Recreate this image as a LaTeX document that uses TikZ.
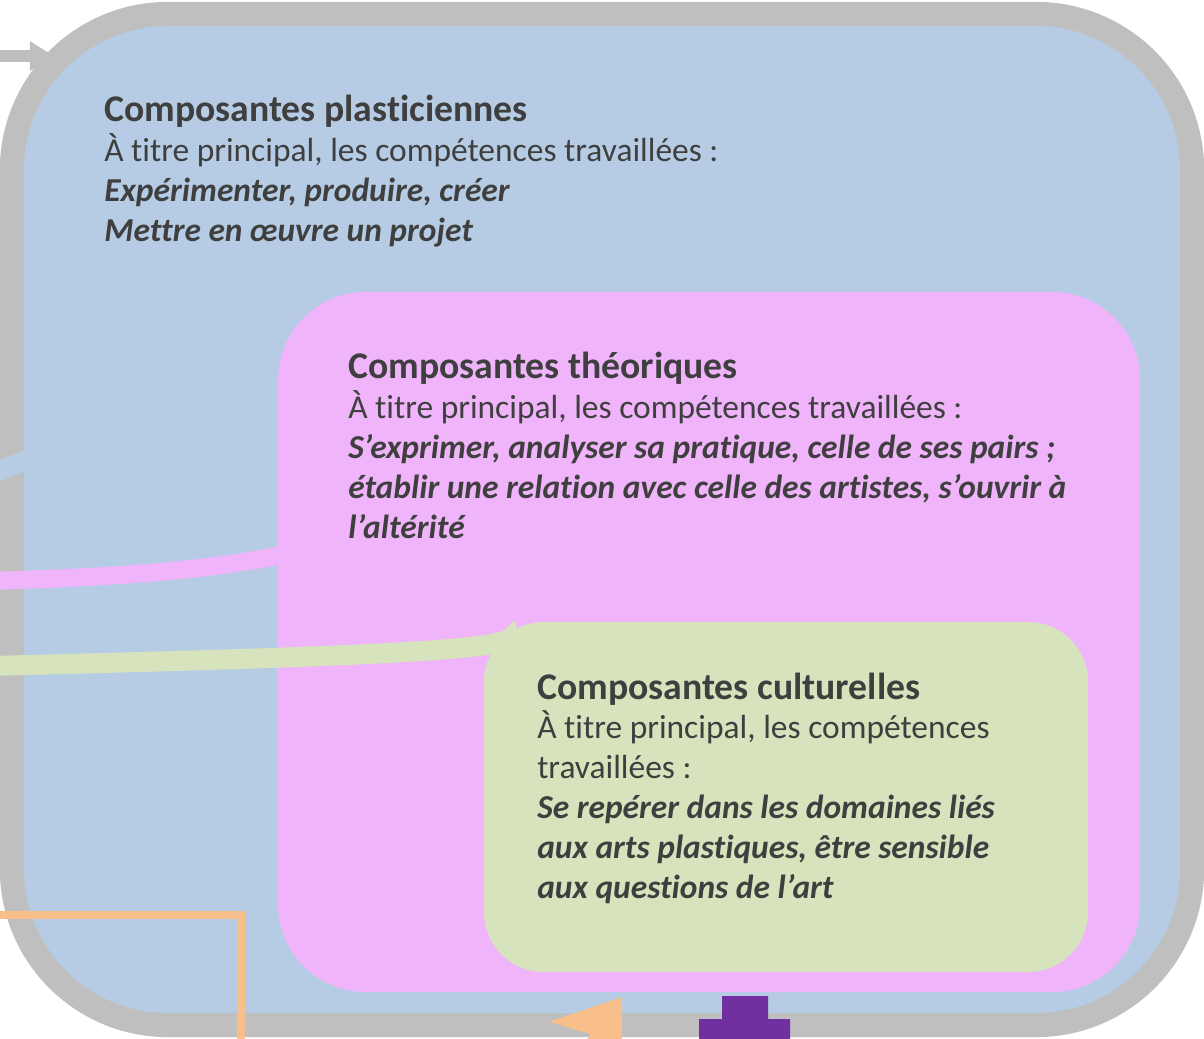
\documentclass[tikz,border=0pt]{standalone}
\usepackage{fontspec}
\setmainfont{Carlito}[Ligatures=NoCommon]
\usetikzlibrary{arrows.meta}
\definecolor{plastblue}{HTML}{B5CCE4}
\definecolor{framegray}{HTML}{BFBFBF}
\definecolor{theopink}{HTML}{F0B4FA}
\definecolor{cultgreen}{HTML}{D6E3BC}
\definecolor{linkorange}{HTML}{F9BF8B}
\definecolor{linkpurple}{HTML}{7030A0}
\definecolor{inktext}{HTML}{3F3F3F}
\newcommand{\blocktitle}[1]{{\fontsize{26.8}{28.3}\selectfont\bfseries #1}}

\begin{document}
\begin{tikzpicture}[x=0.025cm, y=-0.025cm]
    % Define styles
    \tikzset{
        plastbox/.style={draw=framegray, line width=0.6cm, fill=plastblue, rounded corners=3.9cm, minimum width=29.5cm, minimum height=25.275cm, inner sep=0},
        theobox/.style={fill=theopink, rounded corners=2.2cm, minimum width=21.55cm, minimum height=17.5cm, inner sep=0},
        cultbox/.style={fill=cultgreen, rounded corners=1.5cm, minimum width=15.1cm, minimum height=8.75cm, inner sep=0},
        blocktext/.style={anchor=base west, align=left, inner sep=0, text=inktext, font=\fontsize{23.8}{28.3}\selectfont},
        graylink/.style={draw=framegray, line width=0.3cm, -{Triangle[length=0.6cm, width=0.7cm]}},
        bluelink/.style={draw=plastblue, line width=0.5cm},
        pinklink/.style={draw=theopink, line width=0.45cm},
        greenlink/.style={draw=cultgreen, line width=0.5cm, -{Stealth[length=0.7cm, width=0.8cm, inset=0.2cm]}},
        orangelink/.style={draw=linkorange, line width=0.2cm},
        orangetip/.style={draw=linkorange, line width=0.2cm, -{Stealth[length=1.55cm, width=2.2cm, inset=0.375cm]}}
    }
    \useasboundingbox (0,0) rectangle (1204,1039);
    \clip (0,0) rectangle (1204,1039);

    % Nested boxes
    \node[plastbox] (plast) at (602,519.5) {};
    \node[theobox] (theo) at (709,642) {};
    \node[cultbox] (cult) at (786,797) {};

    % Texts of the three components (anchored on their last line)
    \node[blocktext] (plasttext) at (104,241) {\blocktitle{Composantes plasticiennes}\\
        À titre principal, les compétences travaillées :\\
        \textbf{\textit{Expérimenter, produire, créer}}\\
        \textbf{\textit{Mettre en œuvre un projet}}};
    \node[blocktext] (theotext) at (348,538) {\blocktitle{Composantes théoriques}\\
        À titre principal, les compétences travaillées :\\
        \textbf{\textit{S’exprimer, analyser sa pratique, celle de ses pairs ;}}\\
        \textbf{\textit{établir une relation avec celle des artistes, s’ouvrir à}}\\
        \textbf{\textit{l’altérité}}};
    \node[blocktext] (culttext) at (537,898) {\blocktitle{Composantes culturelles}\\
        À titre principal, les compétences\\
        travaillées :\\
        \textbf{\textit{Se repérer dans les domaines liés}}\\
        \textbf{\textit{aux arts plastiques, être sensible}}\\
        \textbf{\textit{aux questions de l’art}}};

    % Incoming links from the left
    \coordinate (grayfoot) at (-10,56);
    \coordinate (plastentry) at (54,56);
    \draw[graylink] (grayfoot) -- (plastentry);

    \coordinate (bluefoot) at (-10,474);
    \coordinate (bluein) at (60,448);
    \draw[bluelink] (bluefoot) -- (bluein);

    \coordinate (pinkfoot) at (-10,581);
    \coordinate (pinkin) at (300,551);
    \draw[pinklink] (pinkfoot) .. controls (150,576) and (230,567) .. (pinkin);

    \coordinate (greenfoot) at (-10,666);
    \coordinate (greenin) at (515,620);
    \draw[greenlink] (greenfoot) .. controls (300,658) and (505,652) .. (greenin);

    % Outgoing links at the bottom
    \coordinate (orangefoot) at (-10,915);
    \coordinate (orangeout) at (241,1060);
    \draw[orangelink] (orangefoot) -| (orangeout);

    \coordinate (orangestart) at (564,1078);
    \coordinate (orangeend) at (622,997);
    \draw[orangetip] (orangestart) -- (orangeend);

    \fill[linkpurple] (722,996) -- (768,996) -- (768,1019) -- (790,1019) -- (790,1045)
        -- (699,1045) -- (699,1019) -- (722,1019) -- cycle;
\end{tikzpicture}
\end{document}
